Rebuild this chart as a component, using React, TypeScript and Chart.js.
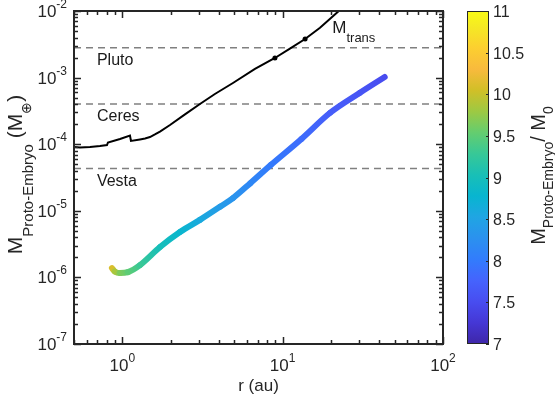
import React, { useEffect, useRef } from "react";
import { Chart, registerables } from "chart.js";

Chart.register(...registerables);

const FONT = '"Liberation Sans", Arial, Helvetica, sans-serif';
const INK = "#262626";

// Transition mass M_trans (Earth masses) against orbital distance r (au)
const transR = [0.5, 0.545, 0.629, 0.726, 0.803, 0.814, 0.968, 1.117, 1.133, 1.289, 1.387, 1.488, 1.598, 1.718, 1.984, 2.46, 3.05, 3.78, 4.9, 6.72, 8.95, 11.1, 13.8, 17.1, 22.4, 25.5];
const transM = [9.1e-5, 8.9e-5, 9.1e-5, 9.4e-5, 9.7e-5, 1.06e-4, 1.2e-4, 1.35e-4, 1.12e-4, 1.18e-4, 1.22e-4, 1.28e-4, 1.4e-4, 1.55e-4, 1.94e-4, 2.8e-4, 4.02e-4, 5.67e-4, 8.3e-4, 1.35e-3, 1.97e-3, 2.73e-3, 3.8e-3, 5.6e-3, 1.0e-2, 1.3e-2];
const transMarkR = [8.95, 13.8];

// Proto-embryo track: distance (au), mass (Earth masses), growth factor M/M0
const embryoR = [0.862, 0.9, 0.967, 1.085, 1.29, 1.72, 2.29, 3.05, 4.07, 4.9, 6.29, 8.43, 13.1, 19.7, 30.2, 43.3];
const embryoM = [1.38e-6, 1.22e-6, 1.16e-6, 1.2e-6, 1.53e-6, 2.86e-6, 4.8e-6, 7.3e-6, 1.15e-5, 1.55e-5, 2.6e-5, 4.87e-5, 1.2e-4, 2.94e-4, 5.87e-4, 1.02e-3];
const embryoRatio = [10.1, 9.85, 9.65, 9.5, 9.3, 9.0, 8.8, 8.6, 8.4, 8.3, 8.15, 8.0, 7.85, 7.7, 7.6, 7.5];

// Reference bodies (Earth masses)
const bodyNames = ["Pluto", "Ceres", "Vesta"];
const bodyMasses = [2.8e-3, 4.0e-4, 4.3e-5];
const bodyLabelR = 0.695;

// Axis ranges and ticks
const rRange = [0.5, 100];
const mRange = [1e-7, 1e-2];
const ratioRange = [7, 11];
const ratioTicks = [7, 7.5, 8, 8.5, 9, 9.5, 10, 10.5, 11];
const rDecades = [0, 1, 2];
const mDecades = [-7, -6, -5, -4, -3, -2];
const transLabelPos = [20.4, 4.6e-3];

// Parula colormap stops: [t, r, g, b]
const PARULA: number[][] = [
  [0.0, 0.2422, 0.1504, 0.6603],
  [0.0635, 0.2706, 0.2147, 0.8364],
  [0.127, 0.2813, 0.3006, 0.9414],
  [0.19, 0.2699, 0.3892, 0.9906],
  [0.254, 0.1963, 0.4847, 0.9892],
  [0.317, 0.1687, 0.5703, 0.9359],
  [0.381, 0.1248, 0.6459, 0.8883],
  [0.444, 0.0297, 0.7082, 0.8163],
  [0.508, 0.0964, 0.75, 0.712],
  [0.571, 0.2161, 0.7843, 0.5923],
  [0.635, 0.3909, 0.8029, 0.4354],
  [0.698, 0.6174, 0.7876, 0.2612],
  [0.762, 0.8203, 0.7498, 0.1535],
  [0.825, 0.9728, 0.7298, 0.2394],
  [0.889, 0.9892, 0.8136, 0.1885],
  [0.952, 0.9597, 0.9135, 0.1423],
  [1.0, 0.9769, 0.9839, 0.0805],
];

function parula(t: number): string {
  const u = Math.min(1, Math.max(0, t));
  for (let i = 1; i < PARULA.length; i++) {
    const a = PARULA[i - 1];
    const b = PARULA[i];
    if (u <= b[0]) {
      const f = (u - a[0]) / (b[0] - a[0]);
      const c = [1, 2, 3].map((k) => Math.round(255 * (a[k] + f * (b[k] - a[k]))));
      return `rgb(${c[0]},${c[1]},${c[2]})`;
    }
  }
  return "rgb(249,251,20)";
}

const ratioColor = (v: number) => parula((v - ratioRange[0]) / (ratioRange[1] - ratioRange[0]));

type Run = { t: string; size: number; dy: number };

function drawRuns(ctx: CanvasRenderingContext2D, runs: Run[], x: number, y: number, align: "left" | "center" | "right") {
  const widths = runs.map((r) => {
    ctx.font = `${r.size}px ${FONT}`;
    return ctx.measureText(r.t).width;
  });
  const total = widths.reduce((s, w) => s + w, 0);
  let cx = align === "left" ? x : align === "center" ? x - total / 2 : x - total;
  ctx.textAlign = "left";
  ctx.textBaseline = "alphabetic";
  runs.forEach((r, i) => {
    ctx.font = `${r.size}px ${FONT}`;
    ctx.fillText(r.t, cx, y + r.dy);
    cx += widths[i];
  });
}

function logTicks(lo: number, hi: number) {
  const out: { v: number; major: boolean }[] = [];
  for (let e = Math.floor(Math.log10(lo)); e <= Math.ceil(Math.log10(hi)); e++) {
    for (let k = 1; k <= 9; k++) {
      const v = k * Math.pow(10, e);
      if (v >= lo * 0.999 && v <= hi * 1.001) out.push({ v, major: k === 1 });
    }
  }
  return out;
}

const decorPlugin = {
  id: "decor",
  afterDraw(chart: any) {
    const { ctx, chartArea: a, scales } = chart;
    const xs = scales.x;
    const ys = scales.y;
    const cs = scales.cb;
    ctx.save();

    // reference body names
    ctx.fillStyle = "#1a1a1a";
    bodyNames.forEach((name, i) => {
      drawRuns(ctx, [{ t: name, size: 16, dy: 0 }], xs.getPixelForValue(bodyLabelR), ys.getPixelForValue(bodyMasses[i]) + 17, "left");
    });
    // transition mass label
    drawRuns(
      ctx,
      [
        { t: "M", size: 17, dy: 0 },
        { t: "trans", size: 13, dy: 9 },
      ],
      xs.getPixelForValue(transLabelPos[0]),
      ys.getPixelForValue(transLabelPos[1]),
      "left"
    );

    // inward ticks on all four sides
    ctx.strokeStyle = INK;
    ctx.lineWidth = 1.5;
    ctx.beginPath();
    logTicks(rRange[0], rRange[1]).forEach(({ v, major }) => {
      const px = Math.round(xs.getPixelForValue(v)) + 0.5;
      const len = major ? 7 : 4;
      ctx.moveTo(px, a.bottom);
      ctx.lineTo(px, a.bottom - len);
      ctx.moveTo(px, a.top);
      ctx.lineTo(px, a.top + len);
    });
    logTicks(mRange[0], mRange[1]).forEach(({ v, major }) => {
      const py = Math.round(ys.getPixelForValue(v)) + 0.5;
      const len = major ? 7 : 4;
      ctx.moveTo(a.left, py);
      ctx.lineTo(a.left + len, py);
      ctx.moveTo(a.right, py);
      ctx.lineTo(a.right - len, py);
    });
    ctx.stroke();

    // axes box
    ctx.lineWidth = 2;
    ctx.strokeRect(a.left, a.top, a.right - a.left, a.bottom - a.top);

    // decade tick labels
    ctx.fillStyle = INK;
    rDecades.forEach((e) => {
      const px = xs.getPixelForValue(Math.pow(10, e));
      drawRuns(
        ctx,
        [
          { t: "10", size: 17, dy: 0 },
          { t: String(e), size: 12, dy: -9 },
        ],
        px,
        a.bottom + 27,
        "center"
      );
    });
    mDecades.forEach((e) => {
      const py = ys.getPixelForValue(Math.pow(10, e));
      drawRuns(
        ctx,
        [
          { t: "10", size: 17, dy: 0 },
          { t: String(e), size: 12, dy: -9 },
        ],
        a.left - 7,
        py + 6,
        "right"
      );
    });

    // axis titles
    drawRuns(ctx, [{ t: "r (au)", size: 17, dy: 0 }], (a.left + a.right) / 2, 391, "center");
    ctx.save();
    ctx.translate(22, (a.top + a.bottom) / 2 - 3);
    ctx.rotate(-Math.PI / 2);
    drawRuns(
      ctx,
      [
        { t: "M", size: 21, dy: 0 },
        { t: "Proto-Embryo", size: 15, dy: 10.5 },
        { t: " (M", size: 21, dy: 0 },
        { t: "\u2295", size: 14, dy: 9 },
        { t: ")", size: 21, dy: 0 },
      ],
      0,
      0,
      "center"
    );
    ctx.restore();

    // colour bar
    const barL = cs.left + 24;
    const barR = cs.left + 46;
    const top = cs.getPixelForValue(ratioRange[1]);
    const bot = cs.getPixelForValue(ratioRange[0]);
    const grad = ctx.createLinearGradient(0, bot, 0, top);
    PARULA.forEach((s) => grad.addColorStop(s[0], `rgb(${Math.round(s[1] * 255)},${Math.round(s[2] * 255)},${Math.round(s[3] * 255)})`));
    ctx.fillStyle = grad;
    ctx.fillRect(barL, top, barR - barL, bot - top);
    ctx.lineWidth = 1;
    ctx.strokeStyle = INK;
    ctx.strokeRect(barL + 0.5, top + 0.5, barR - barL - 1, bot - top - 1);
    ctx.beginPath();
    ratioTicks.forEach((v) => {
      const py = Math.round(cs.getPixelForValue(v)) + 0.5;
      ctx.moveTo(barR, py);
      ctx.lineTo(barR - 3, py);
    });
    ctx.stroke();
    ctx.fillStyle = INK;
    ratioTicks.forEach((v) => {
      drawRuns(ctx, [{ t: String(v), size: 16, dy: 0 }], barR + 4, cs.getPixelForValue(v) + 6, "left");
    });
    ctx.save();
    ctx.translate(545, (a.top + a.bottom) / 2 - 2);
    ctx.rotate(-Math.PI / 2);
    drawRuns(
      ctx,
      [
        { t: "M", size: 20, dy: 0 },
        { t: "Proto-Embryo", size: 14, dy: 8 },
        { t: "/ M", size: 20, dy: 0 },
        { t: "0", size: 14, dy: 8 },
      ],
      0,
      0,
      "center"
    );
    ctx.restore();

    ctx.restore();
  },
};

export default function App() {
  const ref = useRef<HTMLCanvasElement>(null);

  useEffect(() => {
    const canvas = ref.current;
    if (!canvas) return;
    const g = canvas.getContext("2d") as CanvasRenderingContext2D;

    const transData = transR.map((r, i) => ({ x: r, y: transM[i] }));
    const embryoData = embryoR.map((r, i) => ({ x: r, y: embryoM[i] }));

    const bodyLines = bodyMasses.map((m, i) => ({
      label: bodyNames[i],
      data: [
        { x: rRange[0], y: m },
        { x: rRange[1], y: m },
      ],
      borderColor: "#808080",
      borderWidth: 1.5,
      borderDash: [7, 5],
      pointRadius: 0,
      order: 3,
    }));

    const chart = new Chart(canvas, {
      type: "line",
      data: {
        datasets: [
          {
            label: "M_trans",
            data: transData,
            borderColor: "#000000",
            borderWidth: 2,
            tension: 0,
            pointRadius: (c: any) => (transMarkR.includes(transR[c.dataIndex]) ? 2.5 : 0),
            pointBackgroundColor: "#000000",
            pointBorderWidth: 0,
            clip: 0,
            order: 0,
          },
          {
            label: "embryo",
            data: embryoData,
            borderWidth: 6,
            borderColor: ratioColor(embryoRatio[0]),
            borderCapStyle: "round",
            borderJoinStyle: "round",
            cubicInterpolationMode: "monotone",
            pointRadius: 0,
            segment: {
              borderColor: (c: any) => {
                const gr = g.createLinearGradient(c.p0.x, c.p0.y, c.p1.x, c.p1.y);
                gr.addColorStop(0, ratioColor(embryoRatio[c.p0DataIndex]));
                gr.addColorStop(1, ratioColor(embryoRatio[c.p1DataIndex]));
                return gr;
              },
            },
            order: 1,
          },
          ...bodyLines,
        ] as any,
      },
      options: {
        animation: false,
        responsive: false,
        events: [],
        layout: { padding: { top: 11, left: 0, right: 0, bottom: 0 } },
        plugins: { legend: { display: false }, tooltip: { enabled: false } },
        scales: {
          x: {
            type: "logarithmic",
            min: rRange[0],
            max: rRange[1],
            ticks: { display: false },
            grid: { display: false },
            border: { display: false },
            afterFit: (s: any) => {
              s.height = 59;
            },
          },
          y: {
            type: "logarithmic",
            min: mRange[0],
            max: mRange[1],
            ticks: { display: false },
            grid: { display: false },
            border: { display: false },
            afterFit: (s: any) => {
              s.width = 74;
            },
          },
          cb: {
            type: "linear",
            position: "right",
            min: ratioRange[0],
            max: ratioRange[1],
            ticks: { display: false },
            grid: { display: false },
            border: { display: false },
            afterFit: (s: any) => {
              s.width = 112;
            },
          },
        },
      } as any,
      plugins: [decorPlugin],
    });
    return () => chart.destroy();
  }, []);

  return (
    <div style={{ position: "absolute", left: 0, top: 0, width: 555, height: 403, background: "#ffffff" }}>
      <canvas ref={ref} width={555} height={403} style={{ display: "block", width: 555, height: 403 }} />
    </div>
  );
}
